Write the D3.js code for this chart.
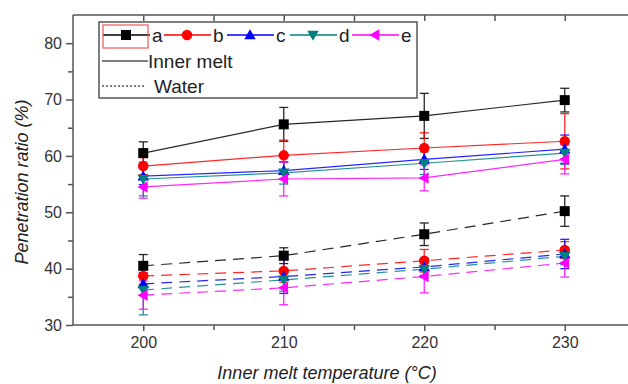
<!DOCTYPE html>
<html><head><meta charset="utf-8">
<script src="https://cdn.jsdelivr.net/npm/d3@7"></script>
<style>body{margin:0;background:#fff;}svg{display:block;font-family:"Liberation Sans",Arial,sans-serif;}</style>
</head><body>
<svg id="c" width="628" height="384"></svg>
<script>
const temps = [200, 210, 220, 230];
const seriesNames = ["a", "b", "c", "d", "e"];
const seriesColors = ["#000000", "#ff0000", "#0000ff", "#008080", "#ff00ff"];
const seriesSymbols = ["square", "circle", "triUp", "triDown", "triLeft"];
// Inner melt (solid)
const innerA = [60.5, 65.6, 67.1, 69.9];
const innerB = [58.2, 60.1, 61.4, 62.6];
const innerC = [56.4, 57.4, 59.4, 61.2];
const innerD = [55.9, 57.0, 58.7, 60.5];
const innerE = [54.5, 55.9, 56.1, 59.4];
const innerErrA = [2.0, 3.0, 4.0, 2.1];
const innerErrB = [1.5, 2.7, 2.7, 4.9];
const innerErrC = [1.5, 1.5, 1.8, 2.5];
const innerErrD = [3.0, 2.0, 2.0, 2.0];
const innerErrE = [2.0, 3.0, 2.3, 2.6];
// Water (dashed)
const waterA = [40.5, 42.3, 46.1, 50.2];
const waterB = [38.7, 39.6, 41.4, 43.3];
const waterC = [37.3, 38.6, 40.3, 42.6];
const waterD = [36.2, 38.0, 39.9, 42.2];
const waterE = [35.3, 36.6, 38.6, 41.0];
const waterErrA = [2.0, 1.4, 2.0, 2.7];
const waterErrB = [1.5, 2.0, 2.0, 1.5];
const waterErrC = [2.0, 3.0, 1.5, 2.6];
const waterErrD = [4.4, 2.0, 1.5, 1.5];
const waterErrE = [2.5, 3.0, 2.9, 2.5];
const yTicks = [30, 35, 40, 45, 50, 55, 60, 65, 70, 75, 80, 85];
const xTicks = [195, 200, 205, 210, 215, 220, 225, 230, 235];
const xLabel = "Inner melt temperature (°C)";
const yLabel = "Penetration ratio (%)";
const legendInner = "Inner melt";
const legendWater = "Water";

const inner = [innerA, innerB, innerC, innerD, innerE];
const innerErr = [innerErrA, innerErrB, innerErrC, innerErrD, innerErrE];
const water = [waterA, waterB, waterC, waterD, waterE];
const waterErr = [waterErrA, waterErrB, waterErrC, waterErrD, waterErrE];

const svg = d3.select("#c");
const x = d3.scaleLinear().domain([195, 235]).range([73, 635]);
const y = d3.scaleLinear().domain([30, 85]).range([325, 15]);
const axisCol = "#555";
const textCol = "#333";

function symbolPath(kind, s) {
  if (kind === "square") return `M${-s},${-s}H${s}V${s}H${-s}Z`;
  if (kind === "circle") return d3.symbol(d3.symbolCircle, Math.PI * s * s * 1.1)();
  const t = s * 1.15;
  if (kind === "triUp") return `M0,${-t}L${t},${t*0.75}L${-t},${t*0.75}Z`;
  if (kind === "triDown") return `M0,${t}L${t},${-t*0.75}L${-t},${-t*0.75}Z`;
  if (kind === "triLeft") return `M${-t},0L${t*0.75},${-t}L${t*0.75},${t}Z`;
}

const plot = svg.append("g");
const line = d3.line().x((d, i) => x(temps[i])).y(d => y(d));

function drawGroup(vals, errs, dash) {
  vals.forEach((v, si) => {
    const col = seriesColors[si];
    plot.append("path").attr("d", line(v)).attr("fill", "none").attr("stroke", col)
      .attr("stroke-width", 1.2).attr("stroke-dasharray", dash ? "11,7" : null).attr("opacity", 0.85);
  });
  vals.forEach((v, si) => {
    const col = seriesColors[si];
    v.forEach((val, i) => {
      const cx = x(temps[i]);
      const e = errs[si][i];
      const g = plot.append("g").attr("stroke", col).attr("stroke-width", 1.3).attr("opacity", 0.85);
      g.append("line").attr("x1", cx).attr("x2", cx).attr("y1", y(val - e)).attr("y2", y(val + e));
      g.append("line").attr("x1", cx - 4.5).attr("x2", cx + 4.5).attr("y1", y(val - e)).attr("y2", y(val - e));
      g.append("line").attr("x1", cx - 4.5).attr("x2", cx + 4.5).attr("y1", y(val + e)).attr("y2", y(val + e));
    });
  });
  vals.forEach((v, si) => {
    const col = seriesColors[si];
    v.forEach((val, i) => {
      plot.append("path").attr("d", symbolPath(seriesSymbols[si], 5))
        .attr("transform", `translate(${x(temps[i])},${y(val)})`).attr("fill", col);
    });
  });
}
drawGroup(water, waterErr, true);
drawGroup(inner, innerErr, false);

// Axes frame
const ax = svg.append("g").attr("stroke", axisCol).attr("stroke-width", 1.5);
ax.append("line").attr("x1", x(195)).attr("x2", 628).attr("y1", y(30)).attr("y2", y(30));
ax.append("line").attr("x1", x(195)).attr("x2", 628).attr("y1", y(85)).attr("y2", y(85));
ax.append("line").attr("x1", x(195)).attr("x2", x(195)).attr("y1", y(30)).attr("y2", y(85));

const bottomAxis = d3.axisBottom(x).tickValues(xTicks.filter(t => t > 195)).tickSize(6).tickPadding(6)
  .tickFormat(d => d % 10 === 0 ? d : "");
const gb = svg.append("g").attr("transform", `translate(0,${y(30)})`).call(bottomAxis);
gb.select(".domain").remove();
gb.selectAll(".tick line").attr("stroke", axisCol).attr("stroke-width", 1.5).attr("y2", d => d % 10 === 0 ? 6 : 5);
gb.selectAll(".tick text").attr("fill", textCol).style("font-size", "16px").style("font-family", "Liberation Sans, Arial, sans-serif");

const topAxis = d3.axisTop(x).tickValues(xTicks.filter(t => t > 195)).tickSize(-6).tickFormat("");
const gt = svg.append("g").attr("transform", `translate(0,${y(85)})`).call(topAxis);
gt.select(".domain").remove();
gt.selectAll(".tick line").attr("stroke", axisCol).attr("stroke-width", 1.5);

const leftAxis = d3.axisLeft(y).tickValues(yTicks.filter(t => t < 85)).tickSize(6).tickPadding(5)
  .tickFormat(d => d % 10 === 0 ? d : "");
const gl = svg.append("g").attr("transform", `translate(${x(195)},0)`).call(leftAxis);
gl.select(".domain").remove();
gl.selectAll(".tick line").attr("stroke", axisCol).attr("stroke-width", 1.5).attr("x2", d => d % 10 === 0 ? -7 : -5);
gl.selectAll(".tick text").attr("fill", textCol).style("font-size", "16px").style("font-family", "Liberation Sans, Arial, sans-serif");

// Axis titles
svg.append("text").attr("x", 327).attr("y", 379).attr("text-anchor", "middle")
  .style("font-size", "18px").style("font-style", "italic").attr("fill", "#222").text(xLabel);
svg.append("text").attr("transform", `translate(28,${182}) rotate(-90)`).attr("text-anchor", "middle")
  .style("font-size", "18px").style("font-style", "italic").attr("fill", "#222").text(yLabel);

// Legend
const lg = svg.append("g");
lg.append("rect").attr("x", 99).attr("y", 22).attr("width", 318).attr("height", 76)
  .attr("fill", "#fff").attr("stroke", "#555").attr("stroke-width", 1.5);
const entryX = [103, 164, 227, 290, 352];
const rowY = 35;
seriesNames.forEach((n, i) => {
  const x0 = entryX[i];
  const col = seriesColors[i];
  lg.append("line").attr("x1", x0).attr("x2", x0 + 47).attr("y1", rowY).attr("y2", rowY)
    .attr("stroke", col).attr("stroke-width", 1.3);
  lg.append("path").attr("d", symbolPath(seriesSymbols[i], 5))
    .attr("transform", `translate(${x0 + 23},${rowY})`).attr("fill", col);
  lg.append("text").attr("x", x0 + 49).attr("y", rowY + 7).style("font-size", "19px").attr("fill", "#222").text(n);
});
lg.append("rect").attr("x", 103).attr("y", 25).attr("width", 45).attr("height", 23)
  .attr("fill", "none").attr("stroke", "#e55").attr("stroke-width", 1.2);
lg.append("line").attr("x1", 102).attr("x2", 148).attr("y1", 61).attr("y2", 61).attr("stroke", "#000").attr("stroke-width", 1.2);
lg.append("text").attr("x", 148).attr("y", 68).style("font-size", "19px").attr("fill", "#222").text(legendInner);
lg.append("line").attr("x1", 102).attr("x2", 146).attr("y1", 86).attr("y2", 86).attr("stroke", "#000")
  .attr("stroke-width", 1.2).attr("stroke-dasharray", "2,2");
lg.append("text").attr("x", 154).attr("y", 93).style("font-size", "19px").attr("fill", "#222").text(legendWater);
</script>
</body></html>
